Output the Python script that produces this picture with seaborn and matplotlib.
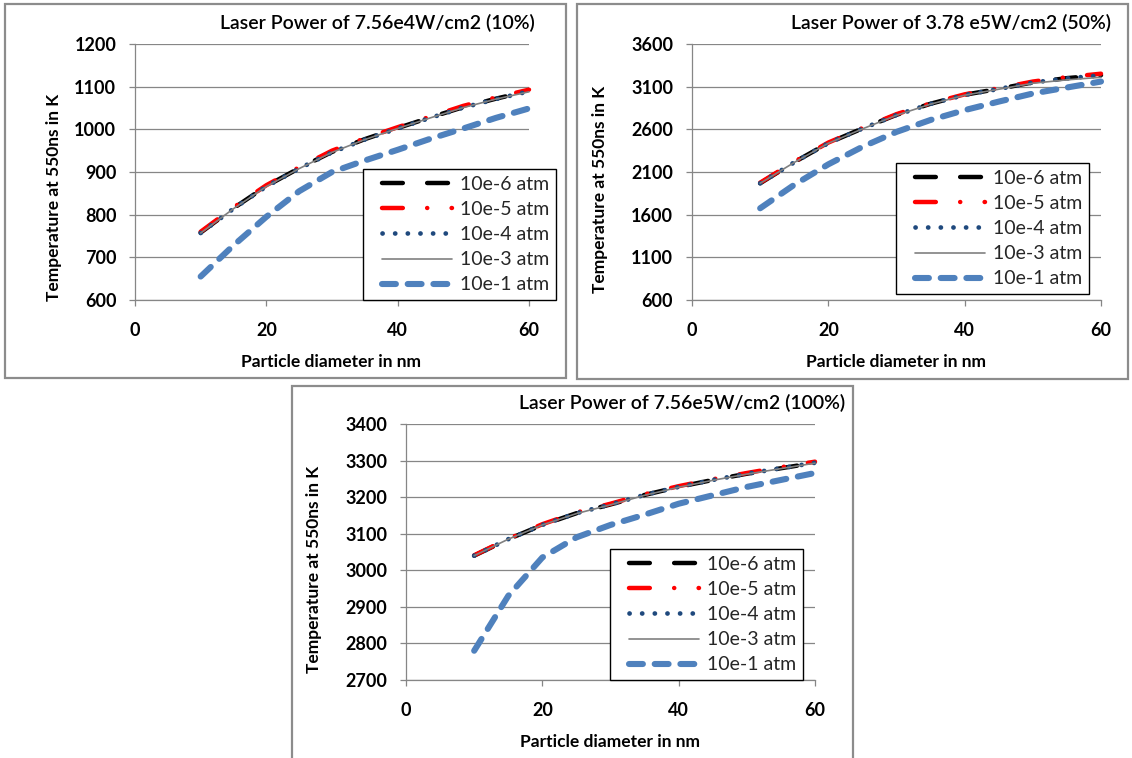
import numpy as np
import pandas as pd
import matplotlib
matplotlib.use("Agg")
import matplotlib.pyplot as plt
import seaborn as sns
from matplotlib.patches import Rectangle
from matplotlib.lines import Line2D
from matplotlib.legend_handler import HandlerLine2D

sns.set_theme(style="white")
plt.rcParams['font.family'] = ['Lato', 'DejaVu Sans']
plt.rcParams['lines.scale_dashes'] = False

# ---------------- data ----------------
diameter_nm = [10, 15, 20, 25, 30, 35, 40, 45, 50, 55, 60]
pressure_labels = ["10e-6 atm", "10e-5 atm", "10e-4 atm", "10e-3 atm", "10e-1 atm"]

# Laser power 7.56e4 W/cm2 (10%)
p10_e6 = [758, 815, 867, 909, 947, 977, 1003, 1028, 1052, 1072, 1090]
p10_e5 = [760, 817, 869, 911, 950, 979, 1005, 1030, 1055, 1075, 1093]
p10_e4 = [757, 814, 866, 908, 946, 976, 1002, 1027, 1051, 1071, 1089]
p10_e3 = [757, 814, 866, 908, 946, 976, 1002, 1027, 1051, 1071, 1088]
p10_e1 = [655, 728, 795, 855, 900, 927, 952, 978, 1002, 1027, 1049]

# Laser power 3.78 e5 W/cm2 (50%)
p50_e6 = [1968, 2215, 2440, 2610, 2770, 2900, 3005, 3075, 3150, 3200, 3235]
p50_e5 = [1975, 2220, 2445, 2615, 2778, 2905, 3010, 3082, 3160, 3212, 3252]
p50_e4 = [1968, 2213, 2438, 2608, 2768, 2898, 3003, 3073, 3148, 3198, 3232]
p50_e3 = [1968, 2212, 2437, 2605, 2765, 2895, 3000, 3070, 3140, 3180, 3210]
p50_e1 = [1675, 1950, 2190, 2395, 2570, 2710, 2825, 2925, 3020, 3090, 3160]

# Laser power 7.56e5 W/cm2 (100%)
p100_e6 = [3040, 3085, 3124, 3156, 3180, 3206, 3228, 3247, 3264, 3279, 3294]
p100_e5 = [3041, 3086, 3126, 3158, 3182, 3208, 3230, 3249, 3266, 3282, 3297]
p100_e4 = [3040, 3085, 3124, 3156, 3180, 3206, 3228, 3247, 3264, 3279, 3294]
p100_e3 = [3040, 3085, 3124, 3155, 3179, 3205, 3227, 3246, 3263, 3278, 3293]
p100_e1 = [2780, 2930, 3035, 3090, 3124, 3152, 3182, 3205, 3228, 3247, 3266]

titles = ["Laser Power of 7.56e4W/cm2 (10%)",
          "Laser Power of 3.78 e5W/cm2 (50%)",
          "Laser Power of 7.56e5W/cm2 (100%)"]
y_ticks_10 = [600, 700, 800, 900, 1000, 1100, 1200]
y_ticks_50 = [600, 1100, 1600, 2100, 2600, 3100, 3600]
y_ticks_100 = [2700, 2800, 2900, 3000, 3100, 3200, 3300, 3400]
x_ticks = [0, 20, 40, 60]
x_label = "Particle diameter in nm"
y_label = "Temperature at 550ns in K"

panel_series = [
    [p10_e6, p10_e5, p10_e4, p10_e3, p10_e1],
    [p50_e6, p50_e5, p50_e4, p50_e3, p50_e1],
    [p100_e6, p100_e5, p100_e4, p100_e3, p100_e1],
]
panel_yticks = [y_ticks_10, y_ticks_50, y_ticks_100]

# ---------------- styles ----------------
series_styles = [
    dict(color="#000000", lw=3.2, ls=(0, (15, 17.5))),
    dict(color="#FF0000", lw=3.2, ls=(0, (15, 17.5, 0.1, 17.5))),
    dict(color="#1F497D", lw=3.4, ls=(0, (0.1, 9.0))),
    dict(color="#808080", lw=1.2, ls="-"),
    dict(color="#4F81BD", lw=4.4, ls=(0, (10, 8.5))),
]

W, H = 1132, 758
fig = plt.figure(figsize=(W / 100, H / 100), dpi=100)
fig.patch.set_facecolor("white")

def frac_rect(l, t, r, b):
    return [l / W, 1 - b / H, (r - l) / W, (b - t) / H]

# layout (pixels): axes rect, panel border, title center, ylabel center, xlabel center, legend top-left
layouts = [
    dict(ax=(135, 44, 529, 300), border=(5, 4, 566, 378), title=(377, 23),
         ylab=(54, 197), xlab=(331, 362), leg=(363, 169)),
    dict(ax=(692, 44, 1101, 300), border=(577, 4, 1128, 379), title=(951, 23),
         ylab=(600, 189), xlab=(896, 362), leg=(896, 163)),
    dict(ax=(406, 424, 815, 680), border=(292, 386, 853, 770), title=(682, 403),
         ylab=(314, 569), xlab=(610, 742), leg=(610, 549)),
]

grid_col = "#868686"
for i, lay in enumerate(layouts):
    bl, bt, br, bb = lay["border"]
    fig.add_artist(Rectangle((bl / W, 1 - bb / H), (br - bl) / W, (bb - bt) / H,
                             transform=fig.transFigure, fill=False,
                             edgecolor="#8c8c8c", lw=1.6, zorder=0))
    ax = fig.add_axes(frac_rect(*lay["ax"]))
    ax.set_facecolor("none")
    yt = panel_yticks[i]
    handles = []
    for lab, vals, st in zip(pressure_labels, panel_series[i], series_styles):
        d = pd.DataFrame({"diameter": diameter_nm, "T": vals})
        sns.lineplot(data=d, x="diameter", y="T", ax=ax, color=st["color"],
                     linewidth=st["lw"], linestyle=st["ls"], label=lab,
                     errorbar=None, sort=True, legend=False,
                     dash_capstyle="round", solid_capstyle="round", clip_on=False)
        handles.append(ax.get_lines()[-1])
    ax.set_xlim(0, 60)
    ax.set_ylim(yt[0], yt[-1])
    ax.set_xticks(x_ticks)
    ax.set_yticks(yt)
    ax.yaxis.grid(True, color=grid_col, lw=0.9)
    ax.xaxis.grid(False)
    for s in ["top", "right"]:
        ax.spines[s].set_visible(False)
    for s in ["left", "bottom"]:
        ax.spines[s].set_color(grid_col)
        ax.spines[s].set_linewidth(0.9)
    ax.tick_params(axis="both", which="major", direction="out", length=4.5,
                   width=0.9, color=grid_col, labelsize=13, labelcolor="black",
                   left=True, bottom=True)
    ax.tick_params(axis="y", pad=9)
    ax.tick_params(axis="x", pad=11)
    for t in ax.get_xticklabels() + ax.get_yticklabels():
        t.set_fontweight("bold")
    l, t, r, b = lay["ax"]
    ax.set_xlabel(x_label, fontsize=12.5, fontweight="bold", color="black")
    ax.set_ylabel(y_label, fontsize=12.5, fontweight="bold", color="black")
    ax.xaxis.label.set_va("center")
    ax.yaxis.label.set_va("center")
    ax.xaxis.set_label_coords((lay["xlab"][0] - l) / (r - l), (b - lay["xlab"][1]) / (b - t))
    ax.yaxis.set_label_coords((lay["ylab"][0] - l) / (r - l), (b - lay["ylab"][1]) / (b - t))
    fig.text(lay["title"][0] / W, 1 - lay["title"][1] / H, titles[i],
             ha="center", va="center", fontsize=14, fontweight="semibold", color="black")
    leg = ax.legend(handles, pressure_labels, loc="upper left",
                    bbox_to_anchor=(lay["leg"][0] / W, 1 - lay["leg"][1] / H),
                    bbox_transform=fig.transFigure, borderaxespad=0,
                    fontsize=14, frameon=True, fancybox=False, framealpha=1,
                    edgecolor="black", borderpad=0.35, labelspacing=0.42,
                    handlelength=4.25, handletextpad=0.4,
                    handler_map={Line2D: HandlerLine2D(xpad=0.63)})
    leg.get_frame().set_linewidth(1.0)
    leg.set_zorder(5)

fig.savefig("out.png", dpi=100)
